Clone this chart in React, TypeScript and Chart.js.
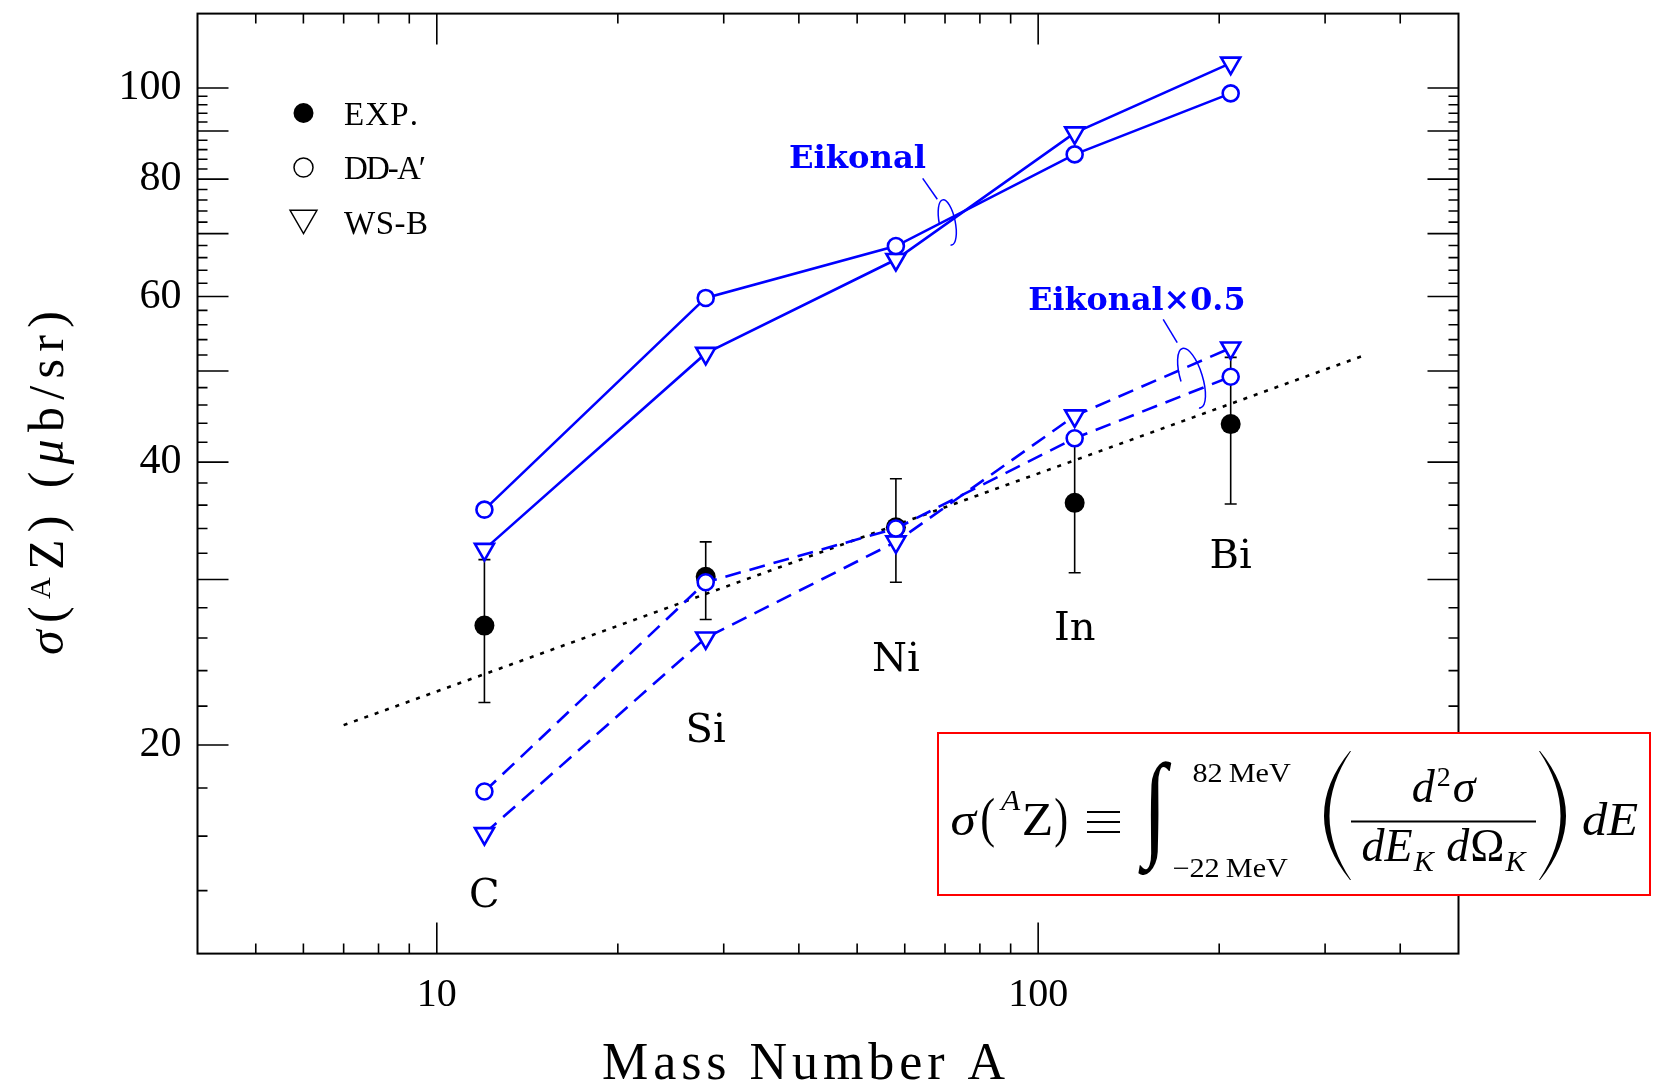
import { useEffect, useRef } from 'react';
import { Chart, registerables } from 'chart.js';

Chart.register(...registerables);

// Targets (mass number A) and measured / calculated integrated cross sections (μb/sr)
const massNumbers = [12, 28, 58, 115, 209];
const elementNames = ['C', 'Si', 'Ni', 'In', 'Bi'];
const expSigma = [26.8, 30.2, 34.1, 36.2, 43.9];
const expLow = [22.2, 27.2, 29.8, 30.5, 36.1];
const expHigh = [31.5, 32.9, 38.4, 42.0, 51.7];
const eikonalDD = [35.6, 59.8, 67.9, 85.0, 98.7];
const eikonalWS = [32.3, 52.2, 65.7, 89.6, 106.3];
const halfEikonalDD = [17.85, 29.8, 34.0, 42.4, 49.3];
const halfEikonalWS = [16.1, 26.0, 32.9, 44.8, 52.9];
const trendA = [7, 350];
const trendSigma = [21, 52];

// Axis ticks
const xTickLabels = [10, 100];
const yTickLabels = [20, 40, 60, 80, 100];
const xMajorTicks = [10, 100];
const xMinorTicks = [5, 6, 7, 8, 9, 20, 30, 40, 50, 60, 70, 80, 90, 200, 300, 400];
const yMajorTicks = [20, 30, 40, 50, 60, 70, 80, 90, 100];
const yMinorTicks = [14, 16, 18, 22, 24, 26, 28, 32, 34, 36, 38, 42, 44, 46, 48, 52, 54, 56, 58, 62, 64, 66, 68, 72, 74, 76, 78, 82, 84, 86, 88, 92, 94, 96, 98];

// Element label anchors (data space)
const elementLabelSigma = [13.94, 20.86, 24.84, 26.83, 31.98];

const BLUE = '#0000ff';
const SERIF = '"Liberation Serif"';
const DJ = '"DejaVu Serif"';

const pts = (ys: number[]) => massNumbers.map((x, i) => ({ x, y: ys[i] }));

type Piece = [string, string, number];

// Draws text so that its ink spans roughly [x0, x1]; horizontal stretch is kept mild.
function fitInk(ctx: CanvasRenderingContext2D, text: string, font: string, x0: number, x1: number, baseline: number) {
  ctx.font = font;
  ctx.textAlign = 'left';
  ctx.textBaseline = 'alphabetic';
  const m = ctx.measureText(text);
  const L = m.actualBoundingBoxLeft;
  const R = m.actualBoundingBoxRight;
  const s = Math.max(0.85, Math.min(1.12, (x1 - x0) / (L + R)));
  const cx = (x0 + x1) / 2;
  const left = cx - ((L + R) * s) / 2;
  ctx.save();
  ctx.translate(left + L * s, baseline);
  ctx.scale(s, 1);
  ctx.fillText(text, 0, 0);
  ctx.restore();
}

function fitBox(ctx: CanvasRenderingContext2D, text: string, font: string, x0: number, y0: number, x1: number, y1: number) {
  ctx.font = font;
  ctx.textAlign = 'left';
  ctx.textBaseline = 'alphabetic';
  const m = ctx.measureText(text);
  const L = m.actualBoundingBoxLeft;
  const R = m.actualBoundingBoxRight;
  const A = m.actualBoundingBoxAscent;
  const D = m.actualBoundingBoxDescent;
  const sx = (x1 - x0) / (L + R);
  const sy = (y1 - y0) / (A + D);
  ctx.save();
  ctx.translate(x0 + L * sx, y0 + A * sy);
  ctx.scale(sx, sy);
  ctx.fillText(text, 0, 0);
  ctx.restore();
}

// Lays pieces (text, font, vertical shift) one after another, spreading them evenly over [x0, x1]
function spreadPieces(ctx: CanvasRenderingContext2D, pieces: Piece[], x0: number, x1: number, baseline: number) {
  ctx.textAlign = 'left';
  ctx.textBaseline = 'alphabetic';
  const widths = pieces.map(([t, f]) => {
    ctx.font = f;
    return ctx.measureText(t).width;
  });
  const total = widths.reduce((a, b) => a + b, 0);
  const gap = pieces.length > 1 ? (x1 - x0 - total) / (pieces.length - 1) : 0;
  let x = x0;
  pieces.forEach(([t, f, dy], i) => {
    ctx.font = f;
    ctx.fillText(t, x, baseline + dy);
    x += widths[i] + gap;
  });
}

// Lays pieces with natural advances (plus a small tracking), centred on cx
function centredRun(ctx: CanvasRenderingContext2D, pieces: Piece[], cx: number, baseline: number, tracking: number) {
  ctx.textAlign = 'left';
  ctx.textBaseline = 'alphabetic';
  const widths = pieces.map(([t, f]) => {
    ctx.font = f;
    return ctx.measureText(t).width;
  });
  const total = widths.reduce((a, b) => a + b, 0) + tracking * (pieces.length - 1);
  let x = cx - total / 2;
  pieces.forEach(([t, f, dy], i) => {
    ctx.font = f;
    ctx.fillText(t, x, baseline + dy);
    x += widths[i] + tracking;
  });
}

function fitSpaced(ctx: CanvasRenderingContext2D, text: string, font: string, x0: number, x1: number, baseline: number) {
  spreadPieces(ctx, [...text].map((c) => [c, font, 0] as Piece), x0, x1, baseline);
}

// Tall delimiter drawn as a crescent; dir = -1 for "(", +1 for ")"
function bigParen(ctx: CanvasRenderingContext2D, x0: number, y0: number, x1: number, y1: number, dir: number, thick: number) {
  const ym = (y0 + y1) / 2;
  const tipX = dir < 0 ? x1 : x0;
  const bellyX = dir < 0 ? x0 : x1;
  const cOut = 2 * bellyX - tipX;
  const cIn = 2 * (bellyX - dir * thick) - tipX;
  ctx.beginPath();
  ctx.moveTo(tipX, y0);
  ctx.quadraticCurveTo(cOut, ym, tipX, y1);
  ctx.lineTo(tipX - dir * 1, y1);
  ctx.quadraticCurveTo(cIn, ym, tipX - dir * 1, y0);
  ctx.closePath();
  ctx.fill();
}

const decorPlugin = {
  id: 'decor',
  beforeDraw(chart: any) {
    const ctx = chart.ctx as CanvasRenderingContext2D;
    ctx.save();
    ctx.fillStyle = '#ffffff';
    ctx.fillRect(0, 0, chart.width, chart.height);
    ctx.restore();
  },
  beforeDatasetsDraw(chart: any) {
    const ctx = chart.ctx as CanvasRenderingContext2D;
    const xs = chart.scales.x;
    const ys = chart.scales.y;
    ctx.save();
    ctx.strokeStyle = '#000';
    ctx.lineWidth = 1.6;
    massNumbers.forEach((a, i) => {
      const x = xs.getPixelForValue(a);
      const y1 = ys.getPixelForValue(expLow[i]);
      const y2 = ys.getPixelForValue(expHigh[i]);
      ctx.beginPath();
      ctx.moveTo(x, y1);
      ctx.lineTo(x, y2);
      ctx.moveTo(x - 6, y1);
      ctx.lineTo(x + 6, y1);
      ctx.moveTo(x - 6, y2);
      ctx.lineTo(x + 6, y2);
      ctx.stroke();
    });
    ctx.restore();
  },
  afterDraw(chart: any) {
    const ctx = chart.ctx as CanvasRenderingContext2D;
    const xs = chart.scales.x;
    const ys = chart.scales.y;
    const { left, right, top, bottom } = chart.chartArea;
    ctx.save();

    // frame
    ctx.strokeStyle = '#000';
    ctx.lineWidth = 2;
    ctx.strokeRect(left, top, right - left, bottom - top);

    // inward ticks on all four sides
    ctx.lineWidth = 1.6;
    const MAJ = 31;
    const MIN = 10;
    ctx.beginPath();
    const xTick = (v: number, len: number) => {
      const p = xs.getPixelForValue(v);
      ctx.moveTo(p, bottom);
      ctx.lineTo(p, bottom - len);
      ctx.moveTo(p, top);
      ctx.lineTo(p, top + len);
    };
    const yTick = (v: number, len: number) => {
      const p = ys.getPixelForValue(v);
      ctx.moveTo(left, p);
      ctx.lineTo(left + len, p);
      ctx.moveTo(right, p);
      ctx.lineTo(right - len, p);
    };
    xMajorTicks.forEach((v) => xTick(v, MAJ));
    xMinorTicks.forEach((v) => xTick(v, MIN));
    yMajorTicks.forEach((v) => yTick(v, MAJ));
    yMinorTicks.forEach((v) => yTick(v, MIN));
    ctx.stroke();

    // x axis title
    ctx.fillStyle = '#000';
    fitSpaced(ctx, 'Mass Number A', `52px ${SERIF}`, 602, 1005, 1079);

    // y axis title σ(^AZ) (μb/sr), rotated
    ctx.save();
    ctx.translate(63, 655);
    ctx.rotate(-Math.PI / 2);
    const fs = 50;
    const f = `${fs}px ${SERIF}`;
    const fi = `italic ${fs}px ${SERIF}`;
    spreadPieces(
      ctx,
      [
        ['σ', fi, 0],
        ['(', f, 0],
        ['A', `30px ${SERIF}`, -13],
        ['Z', f, 0],
        [')', f, 0],
        [' ', f, 0],
        ['(', f, 0],
        ['μ', fi, 0],
        ['b', f, 0],
        ['/', f, 0],
        ['s', f, 0],
        ['r', f, 0],
        [')', f, 0],
      ],
      0,
      344,
      0
    );
    ctx.restore();

    // legend
    const lx = 303.5;
    ctx.fillStyle = '#000';
    ctx.beginPath();
    ctx.arc(lx, 113, 10, 0, Math.PI * 2);
    ctx.fill();
    ctx.lineWidth = 1.5;
    ctx.beginPath();
    ctx.arc(lx, 167.5, 9.5, 0, Math.PI * 2);
    ctx.stroke();
    const tr = 15.5;
    const tcy = 218;
    ctx.beginPath();
    ctx.moveTo(lx - (tr * Math.sqrt(3)) / 2, tcy - tr / 2);
    ctx.lineTo(lx + (tr * Math.sqrt(3)) / 2, tcy - tr / 2);
    ctx.lineTo(lx, tcy + tr);
    ctx.closePath();
    ctx.stroke();
    fitSpaced(ctx, 'EXP.', `33px ${SERIF}`, 344, 418, 124.5);
    fitSpaced(ctx, 'DD-A\u2032', `33px ${SERIF}`, 344, 426, 179);
    fitSpaced(ctx, 'WS-B', `33px ${SERIF}`, 344, 428, 233.5);

    // element labels
    ctx.font = `40px ${DJ}`;
    ctx.textAlign = 'center';
    ctx.textBaseline = 'alphabetic';
    elementNames.forEach((n, i) => {
      const x = xs.getPixelForValue(massNumbers[i]);
      const y = ys.getPixelForValue(elementLabelSigma[i]);
      ctx.fillText(n, x, y + 14.6);
    });

    // model annotations
    ctx.fillStyle = BLUE;
    ctx.strokeStyle = BLUE;
    const eX = xs.getPixelForValue(50.15);
    const eY = ys.getPixelForValue(84.78);
    fitInk(ctx, 'Eikonal', `bold 32px ${DJ}`, eX - 68, eX + 68, eY + 12.5);
    const hX = xs.getPixelForValue(145.6);
    const hY = ys.getPixelForValue(59.75);
    fitInk(ctx, 'Eikonal\u00d70.5', `bold 32px ${DJ}`, hX - 107, hX + 107, hY + 12);

    ctx.lineWidth = 1.5;
    const ell = (a: number, s: number, rx: number, ry: number, rot: number) => {
      ctx.beginPath();
      ctx.ellipse(xs.getPixelForValue(a), ys.getPixelForValue(s), rx, ry, rot, Math.PI * 1.0, Math.PI * 2.55);
      ctx.stroke();
    };
    ell(70.6, 71.95, 8, 23, -0.2);
    ell(179.9, 49.13, 11, 31, -0.3);
    const leader = (a1: number, s1: number, a2: number, s2: number) => {
      ctx.beginPath();
      ctx.moveTo(xs.getPixelForValue(a1), ys.getPixelForValue(s1));
      ctx.lineTo(xs.getPixelForValue(a2), ys.getPixelForValue(s2));
      ctx.stroke();
    };
    leader(64.27, 80.15, 67.96, 76.15);
    leader(161.4, 56.73, 170.3, 53.6);

    // definition box
    ctx.fillStyle = '#ffffff';
    ctx.fillRect(938, 733, 712, 162);
    ctx.strokeStyle = '#ff0000';
    ctx.lineWidth = 2;
    ctx.strokeRect(938, 733, 712, 162);

    ctx.fillStyle = '#000';
    ctx.strokeStyle = '#000';
    fitInk(ctx, 'σ', `italic 46px ${SERIF}`, 951, 979, 835);
    fitBox(ctx, '(', `52px ${SERIF}`, 982, 797, 994, 849);
    fitInk(ctx, 'A', `italic 30px ${SERIF}`, 999, 1021, 810);
    fitInk(ctx, 'Z', `46px ${SERIF}`, 1023, 1052, 835);
    fitBox(ctx, ')', `52px ${SERIF}`, 1055, 797, 1067, 849);
    ctx.lineWidth = 1.8;
    ctx.beginPath();
    [812, 822, 832].forEach((yy) => {
      ctx.moveTo(1087, yy);
      ctx.lineTo(1120, yy);
    });
    ctx.stroke();
    fitBox(ctx, '\u222b', `italic 120px ${SERIF}`, 1138, 761, 1172, 876);
    fitInk(ctx, '82\u2009MeV', `27px ${SERIF}`, 1189, 1296, 782);
    fitInk(ctx, '\u221222\u2009MeV', `27px ${SERIF}`, 1166, 1296, 877);
    bigParen(ctx, 1324, 751, 1350, 880, -1, 5);

    const mf = `italic 46px ${SERIF}`;
    const sub = `italic 30px ${SERIF}`;
    const fracCx = 1443.5;
    centredRun(
      ctx,
      [
        ['d', mf, 0],
        ['2', `28px ${SERIF}`, -16],
        ['σ', mf, 0],
      ],
      fracCx,
      802,
      2
    );
    ctx.lineWidth = 2;
    ctx.beginPath();
    ctx.moveTo(1351, 821.5);
    ctx.lineTo(1536, 821.5);
    ctx.stroke();
    centredRun(
      ctx,
      [
        ['dE', mf, 0],
        ['K', sub, 10],
        [' d', mf, 0],
        ['\u03a9', `46px ${SERIF}`, 0],
        ['K', sub, 10],
      ],
      fracCx,
      861,
      1
    );
    bigParen(ctx, 1540, 751, 1566, 880, 1, 5);
    fitInk(ctx, 'dE', `italic 46px ${SERIF}`, 1583, 1638, 835);

    ctx.restore();
  },
};

export default function App() {
  const ref = useRef<HTMLCanvasElement>(null);

  useEffect(() => {
    if (!ref.current) return;
    const modelStyle = (dashed: boolean, triangle: boolean) => ({
      showLine: true,
      borderColor: BLUE,
      borderWidth: 2.6,
      borderDash: dashed ? [16, 9] : [],
      pointStyle: triangle ? 'triangle' : 'circle',
      pointRotation: triangle ? 180 : 0,
      pointRadius: triangle ? 11 : 8,
      pointBorderWidth: 2.6,
      pointBorderColor: BLUE,
      pointBackgroundColor: '#ffffff',
    });

    const chart = new Chart(ref.current, {
      type: 'scatter',
      data: {
        datasets: [
          { label: 'DD-A\u2032 Eikonal', data: pts(eikonalDD), ...modelStyle(false, false) },
          { label: 'WS-B Eikonal', data: pts(eikonalWS), ...modelStyle(false, true) },
          { label: 'DD-A\u2032 Eikonal\u00d70.5', data: pts(halfEikonalDD), ...modelStyle(true, false) },
          { label: 'WS-B Eikonal\u00d70.5', data: pts(halfEikonalWS), ...modelStyle(true, true) },
          {
            label: 'trend',
            data: trendA.map((x, i) => ({ x, y: trendSigma[i] })),
            showLine: true,
            borderColor: '#000',
            borderWidth: 2.6,
            borderDash: [4, 7],
            pointRadius: 0,
          },
          {
            label: 'EXP.',
            data: pts(expSigma),
            showLine: false,
            pointStyle: 'circle',
            pointRadius: 10,
            pointBorderWidth: 0,
            pointBackgroundColor: '#000',
            pointBorderColor: '#000',
          },
        ] as any,
      },
      options: {
        animation: false,
        responsive: false,
        devicePixelRatio: 1,
        layout: { padding: { top: 8.4, right: 197.5, left: 0, bottom: 0 } },
        plugins: { legend: { display: false }, tooltip: { enabled: false } },
        scales: {
          x: {
            type: 'logarithmic',
            min: 4,
            max: 500,
            grid: { display: false, drawTicks: false },
            border: { display: false },
            afterBuildTicks: (scale: any) => {
              scale.ticks = xTickLabels.map((v) => ({ value: v }));
            },
            afterFit: (scale: any) => {
              scale.height = 129.4;
              scale.paddingLeft = 0;
              scale.paddingRight = 0;
            },
            ticks: {
              autoSkip: false,
              maxRotation: 0,
              padding: 18,
              color: '#000',
              font: { family: 'Liberation Serif', size: 40 },
              callback: (v: any) => String(v),
            },
          },
          y: {
            type: 'logarithmic',
            min: 12,
            max: 120,
            grid: { display: false, drawTicks: false },
            border: { display: false },
            afterBuildTicks: (scale: any) => {
              scale.ticks = yTickLabels.map((v) => ({ value: v }));
            },
            afterFit: (scale: any) => {
              scale.width = 197.5;
              scale.paddingTop = 0;
              scale.paddingBottom = 0;
            },
            ticks: {
              autoSkip: false,
              padding: 16,
              color: '#000',
              font: { family: 'Liberation Serif', size: 42 },
              callback: (v: any) => String(v),
            },
          },
        },
      } as any,
      plugins: [decorPlugin],
    });
    return () => chart.destroy();
  }, []);

  return (
    <div style={{ position: 'fixed', left: 0, top: 0, width: 1656, height: 1083, background: '#fff' }}>
      <canvas ref={ref} width={1656} height={1083} style={{ display: 'block', width: 1656, height: 1083 }} />
    </div>
  );
}
